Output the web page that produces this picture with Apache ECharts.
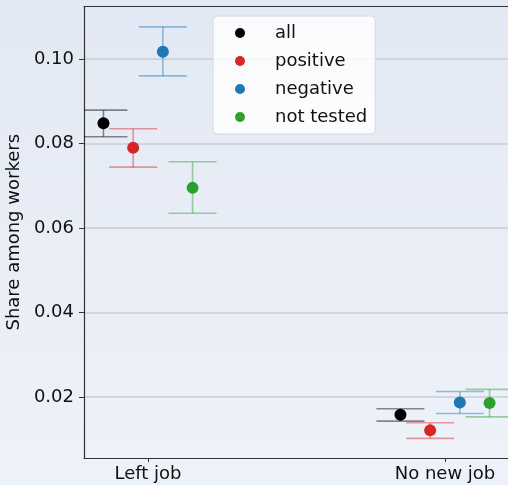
<!DOCTYPE html>
<html><head><meta charset="utf-8">
<script src="https://cdn.jsdelivr.net/npm/echarts@6/dist/echarts.min.js"></script>
<style>html,body{margin:0;padding:0;}#c{width:508px;height:485px;background:linear-gradient(to bottom,#e3e9f4,#eef2f9);}</style>
</head><body><div id="c"></div>
<script>
const categories = ['Left job', 'No new job'];
const groups = ['all', 'positive', 'negative', 'not tested'];
const colors = ['#000000', '#d62728', '#1f77b4', '#2ca02c'];
// point estimates per group, [Left job, No new job]
const valAll = [0.0848, 0.0158];
const valPositive = [0.0790, 0.0121];
const valNegative = [0.1017, 0.0187];
const valNotTested = [0.0695, 0.0186];
// lower / upper bounds
const lowAll = [0.0816, 0.0143], highAll = [0.0879, 0.0172];
const lowPositive = [0.0744, 0.0102], highPositive = [0.0835, 0.0139];
const lowNegative = [0.0960, 0.0161], highNegative = [0.1076, 0.0213];
const lowNotTested = [0.0635, 0.0153], highNotTested = [0.0757, 0.0218];
const yTicks = [0.02, 0.04, 0.06, 0.08, 0.10];

const vals = [valAll, valPositive, valNegative, valNotTested];
const lows = [lowAll, lowPositive, lowNegative, lowNotTested];
const highs = [highAll, highPositive, highNegative, highNotTested];
const offsets = [-0.15, -0.05, 0.05, 0.15];

const chart = echarts.init(document.getElementById('c'), null, {renderer: 'canvas'});
const font = 'DejaVu Sans';
const series = [];
groups.forEach((g, gi) => {
  const data = categories.map((c, ci) => [ci + offsets[gi], vals[gi][ci], lows[gi][ci], highs[gi][ci]]);
  series.push({
    type: 'custom', name: g + '_err', silent: true, z: 2, clip: true,
    data: data,
    encode: {x: 0, y: [1, 2, 3]},
    renderItem: function (params, api) {
      const x = api.value(0);
      const lo = api.coord([x, api.value(2)]);
      const hi = api.coord([x, api.value(3)]);
      const hw = 24;
      const cs = params.coordSys;
      const st = {stroke: colors[gi], lineWidth: 1.6, opacity: 0.45};
      return {type: 'group',
        clipPath: {type: 'rect', shape: {x: cs.x, y: cs.y, width: cs.width, height: cs.height}},
        children: [
        {type: 'line', shape: {x1: lo[0], y1: lo[1], x2: hi[0], y2: hi[1]}, style: st},
        {type: 'line', shape: {x1: lo[0] - hw, y1: lo[1], x2: lo[0] + hw, y2: lo[1]}, style: st},
        {type: 'line', shape: {x1: hi[0] - hw, y1: hi[1], x2: hi[0] + hw, y2: hi[1]}, style: st}
      ]};
    }
  });
  series.push({
    type: 'scatter', name: g, z: 3, symbol: 'circle', symbolSize: 12,
    itemStyle: {color: colors[gi], opacity: 1},
    data: data.map(d => [d[0], d[1]])
  });
});

chart.setOption({
  animation: false,
  grid: {left: 84, right: 0, top: 6.5, bottom: 27, containLabel: false, outerBoundsMode: 'none'},
  xAxis: [{
    type: 'value', min: -0.2155, max: 1.2121, position: 'bottom',
    axisLine: {show: true, onZero: false, lineStyle: {color: '#333', width: 1.2}},
    axisTick: {show: true, customValues: [0, 1], length: 4, lineStyle: {color: '#333'}},
    axisLabel: {customValues: [0, 1], formatter: v => categories[Math.round(v)], fontFamily: font, fontSize: 18, color: '#111', margin: 7},
    splitLine: {show: false}
  }, {
    type: 'value', min: -0.2155, max: 1.2121, position: 'top',
    axisLine: {show: true, onZero: false, lineStyle: {color: '#333', width: 1.2}},
    axisTick: {show: false}, axisLabel: {show: false}, splitLine: {show: false}
  }],
  yAxis: {
    type: 'value', min: 0.00556, max: 0.11243, position: 'left',
    name: 'Share among workers', nameLocation: 'middle', nameGap: 58,
    nameTextStyle: {fontFamily: font, fontSize: 18, color: '#111'},
    axisLine: {show: true, onZero: false, lineStyle: {color: '#333', width: 1.2}},
    axisTick: {show: true, customValues: yTicks, length: 5, lineStyle: {color: '#333'}},
    axisLabel: {customValues: yTicks, formatter: v => v.toFixed(2), fontFamily: font, fontSize: 18, color: '#111', margin: 10},
    splitLine: {show: true, lineStyle: {color: '#c9cdd4', width: 1.5}}
  },
  legend: {
    show: true, orient: 'vertical', left: 213, top: 16,
    data: groups, icon: 'circle', itemWidth: 10, itemHeight: 10, itemGap: 8,
    padding: [7, 8, 7, 22],
    backgroundColor: 'rgba(255,255,255,0.82)', borderColor: '#d6d8dc', borderWidth: 1, borderRadius: 4,
    textStyle: {fontFamily: font, fontSize: 18, color: '#111', lineHeight: 20, padding: [0, 0, 0, 25]}
  },
  series: series
});
</script></body></html>
